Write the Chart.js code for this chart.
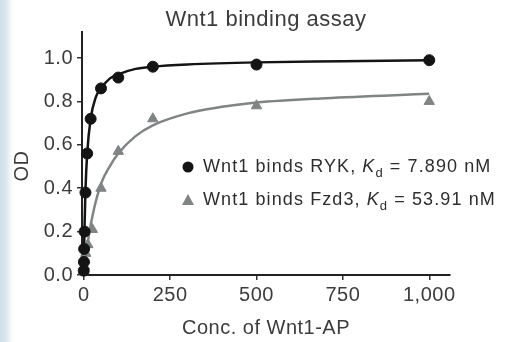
<!DOCTYPE html>
<html>
<head>
<meta charset="utf-8">
<script src="https://cdn.jsdelivr.net/npm/chart.js@4.4.1/dist/chart.umd.min.js"></script>
<style>
  html, body { margin: 0; padding: 0; }
  body {
    width: 509px; height: 342px; overflow: hidden;
    background: linear-gradient(to right, #cfe0ea 0px, #d9e6ee 6px, #f2f6f8 10px, #ffffff 14px);
  }
  #myChart { filter: blur(0.5px); }
</style>
</head>
<body>
<canvas id="myChart" width="509" height="342"></canvas>
<script>
const rykConc = [0, 0.6, 1.2, 2.5, 5, 10, 20, 50, 100, 200, 500, 1000];
const rykOD   = [0.02, 0.06, 0.12, 0.2, 0.38, 0.56, 0.72, 0.86, 0.91, 0.96, 0.97, 0.99];
const fzdConc = [0, 1.5, 3, 6, 12, 25, 50, 100, 200, 500, 1000];
const fzdOD   = [0.02, 0.04, 0.07, 0.1, 0.14, 0.21, 0.40, 0.57, 0.72, 0.78, 0.80];

// fitted curves
const rykFitConc = [0, 2, 5, 10, 20, 35, 50, 75, 100, 150, 200, 300, 500, 750, 1000];
const rykFitOD   = [0, 0.2, 0.39, 0.56, 0.72, 0.82, 0.86, 0.905, 0.925, 0.95, 0.96, 0.97, 0.98, 0.985, 0.99];
const fzdFitConc = [0, 10, 25, 50, 75, 100, 150, 200, 300, 400, 500, 700, 1000];
const fzdFitOD   = [0, 0.13, 0.27, 0.42, 0.50, 0.56, 0.64, 0.69, 0.745, 0.775, 0.795, 0.815, 0.835];

const xTicks = [0, 250, 500, 750, 1000];
const yTicks = [0, 0.2, 0.4, 0.6, 0.8, 1.0];

const textColor = '#3c3c3c';
const rykColor = '#141414';
const fzdColor = '#7f8484';
const fontFamily = '"Liberation Sans", Arial, sans-serif';

function toPoints(xs, ys) {
  return xs.map((x, i) => ({ x: x, y: ys[i] }));
}

const extras = {
  id: 'extras',
  beforeDraw(chart) {
    chart.ctx.letterSpacing = '0.5px';
  },
  afterDraw(chart) {
    const ctx = chart.ctx;
    ctx.save();
    ctx.fillStyle = textColor;
    ctx.font = '20px ' + fontFamily;
    ctx.textAlign = 'center';
    ctx.textBaseline = 'middle';
    ctx.translate(22, 166);
    ctx.rotate(-Math.PI / 2);
    ctx.fillText('OD', 0, 0);
    ctx.restore();

    // legend
    const rows = [
      { name: 'Wnt1 binds RYK, ', kd: ' = 7.890 nM', style: 'circle', color: rykColor, y: 167 },
      { name: 'Wnt1 binds Fzd3, ', kd: ' = 53.91 nM', style: 'triangle', color: fzdColor, y: 200 }
    ];
    ctx.save();
    ctx.letterSpacing = '1.1px';
    ctx.textBaseline = 'middle';
    ctx.textAlign = 'left';
    rows.forEach(r => {
      ctx.fillStyle = r.color;
      ctx.beginPath();
      if (r.style === 'circle') {
        ctx.arc(188, r.y, 5.5, 0, Math.PI * 2);
      } else {
        ctx.moveTo(188, r.y - 6);
        ctx.lineTo(194, r.y + 5);
        ctx.lineTo(182, r.y + 5);
        ctx.closePath();
      }
      ctx.fill();

      ctx.fillStyle = '#2e2e2e';
      let x = 203;
      ctx.font = '18px ' + fontFamily;
      ctx.fillText(r.name, x, r.y);
      x += ctx.measureText(r.name).width;
      ctx.font = 'italic 18px ' + fontFamily;
      ctx.fillText('K', x, r.y);
      x += ctx.measureText('K').width;
      ctx.font = '13px ' + fontFamily;
      ctx.fillText('d', x, r.y + 6);
      x += ctx.measureText('d').width;
      ctx.font = '18px ' + fontFamily;
      ctx.fillText(r.kd, x, r.y);
    });
    ctx.restore();
  }
};

const axisGrid = {
  display: true,
  drawOnChartArea: false,
  drawTicks: true,
  tickLength: 5,
  color: '#333',
  lineWidth: 1.5
};

const ctx = document.getElementById('myChart').getContext('2d');
const myChart = new Chart(ctx, {
  type: 'scatter',
  data: {
    datasets: [
      {
        label: 'Wnt1 binds RYK',
        data: toPoints(rykConc, rykOD),
        showLine: false,
        pointStyle: 'circle',
        pointRadius: 5.5,
        backgroundColor: rykColor,
        borderColor: rykColor,
        borderWidth: 1,
        clip: false,
        order: 0
      },
      {
        label: 'Wnt1 binds Fzd3',
        data: toPoints(fzdConc, fzdOD),
        showLine: false,
        pointStyle: 'triangle',
        pointRadius: 6,
        backgroundColor: fzdColor,
        borderColor: fzdColor,
        borderWidth: 1,
        clip: false,
        order: 0
      },
      {
        label: 'RYK fit',
        data: toPoints(rykFitConc, rykFitOD),
        showLine: true,
        pointRadius: 0,
        borderColor: rykColor,
        borderWidth: 2.5,
        cubicInterpolationMode: 'monotone',
        clip: false,
        order: 1
      },
      {
        label: 'Fzd3 fit',
        data: toPoints(fzdFitConc, fzdFitOD),
        showLine: true,
        pointRadius: 0,
        borderColor: fzdColor,
        borderWidth: 2.5,
        cubicInterpolationMode: 'monotone',
        clip: false,
        order: 1
      }
    ]
  },
  options: {
    responsive: false,
    animation: false,
    devicePixelRatio: 1,
    layout: { padding: { left: 0, right: 59, top: 0, bottom: 0 } },
    plugins: {
      legend: { display: false },
      tooltip: { enabled: false },
      title: {
        display: true,
        fullSize: false,
        text: 'Wnt1 binding assay',
        color: textColor,
        font: { family: fontFamily, size: 22, weight: 'normal', lineHeight: 1.0 },
        padding: { top: 9, bottom: 1 }
      }
    },
    scales: {
      x: {
        type: 'linear',
        min: -5,
        max: 1060,
        afterBuildTicks: s => { s.ticks = xTicks.map(v => ({ value: v })); },
        afterFit: s => { s.height = 67; },
        ticks: {
          color: textColor,
          padding: 3,
          font: { family: fontFamily, size: 20 },
          callback: v => v.toLocaleString('en-US')
        },
        grid: axisGrid,
        border: { display: true, color: '#222', width: 2 },
        title: {
          display: true,
          text: 'Conc. of Wnt1-AP',
          color: textColor,
          font: { family: fontFamily, size: 20 },
          padding: { top: 0, bottom: 2 }
        }
      },
      y: {
        min: 0,
        max: 1.12,
        afterBuildTicks: s => { s.ticks = yTicks.map(v => ({ value: v })); },
        afterFit: s => { s.width = 82; },
        ticks: {
          color: textColor,
          padding: 4,
          font: { family: fontFamily, size: 20 },
          callback: v => v.toFixed(1)
        },
        grid: axisGrid,
        border: { display: true, color: '#222', width: 2 }
      }
    }
  },
  plugins: [extras]
});
</script>
</body>
</html>
